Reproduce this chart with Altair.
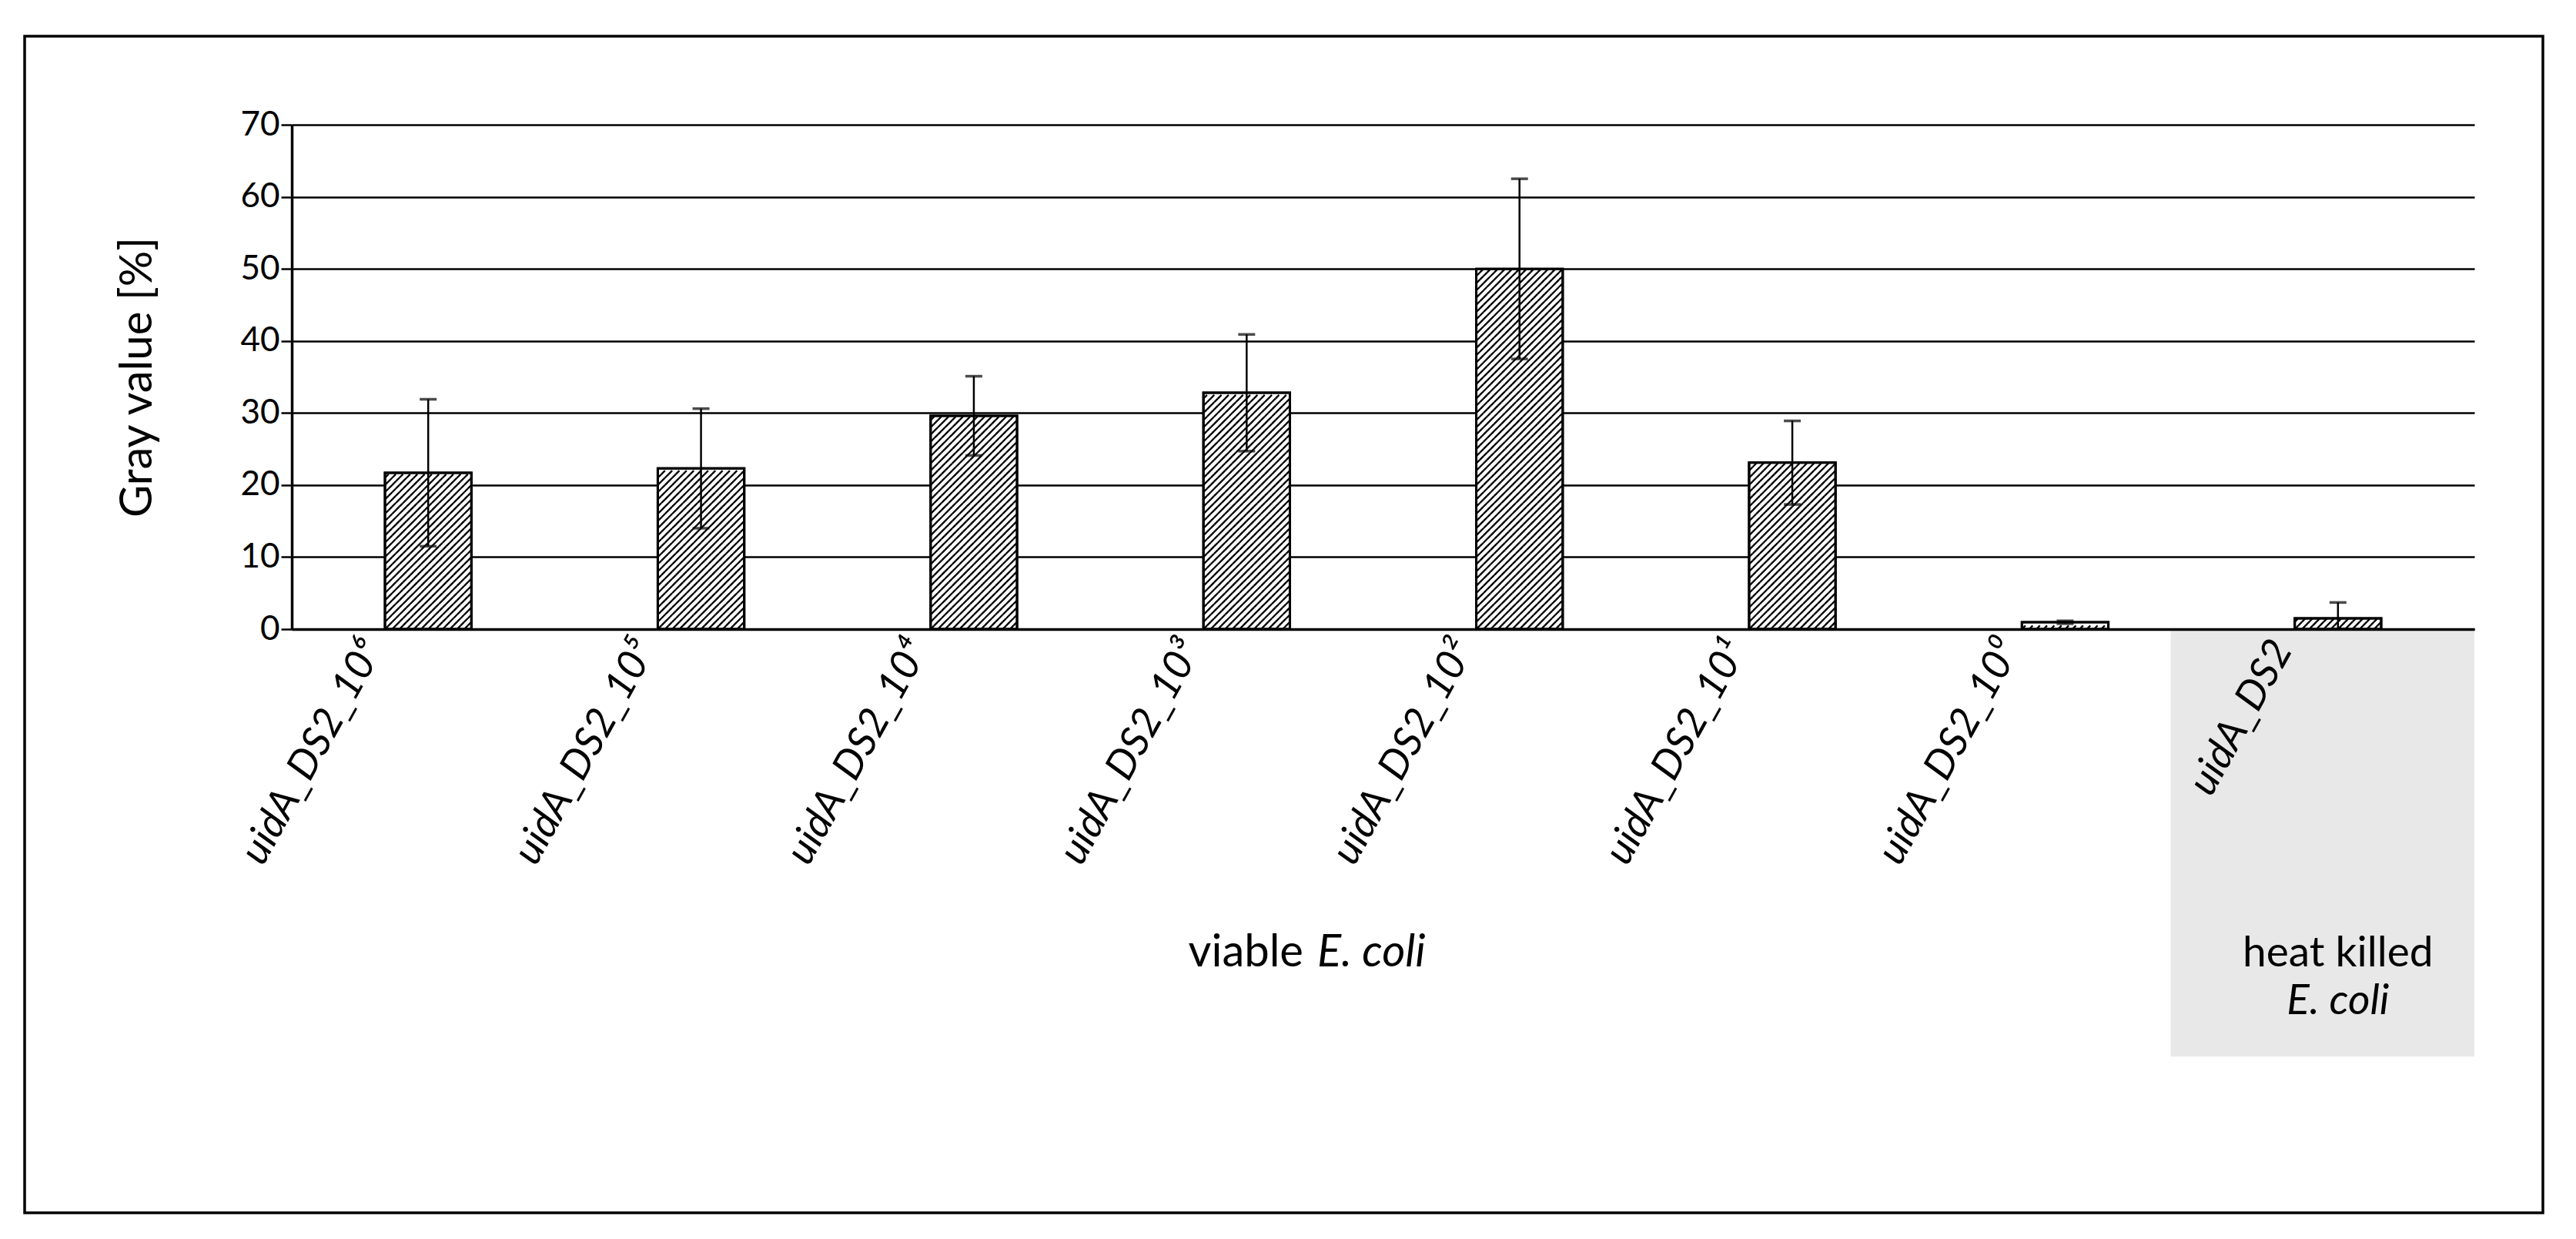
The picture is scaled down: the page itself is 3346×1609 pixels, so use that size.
import altair as alt
import pandas as pd

# ---------------- data ----------------
categories = ["uidA_DS2_10⁶", "uidA_DS2_10⁵", "uidA_DS2_10⁴", "uidA_DS2_10³",
              "uidA_DS2_10²", "uidA_DS2_10¹", "uidA_DS2_10⁰", "uidA_DS2"]
means = [21.7, 22.3, 29.6, 32.8, 50.0, 23.1, 0.95, 1.5]
errors = [10.2, 8.3, 5.5, 8.1, 12.5, 5.8, 0.2, 2.2]
y_ticks = [0, 10, 20, 30, 40, 50, 60, 70]

df = pd.DataFrame({"label": categories, "mean": means, "err": errors})

# ---------------- geometry / style ----------------
FONT = "Lato"
W, H = 2835, 655
Y_MAX = 70
ROW = 0.5                       # hatch row height in data units
row_px = ROW * H / Y_MAX
N_CELLS = 24
bar_px = N_CELLS * row_px
step = W / len(categories)
p_inner = 1 - bar_px / step

c = 2.0 / N_CELLS


def hatch_path(parity):
    segs = []
    for j in range(N_CELLS):
        if (j + parity) % 2 == 0:
            x0 = -1 + j * c
            segs.append(f"M{x0:.4f},{c/2:.4f}L{x0 + c:.4f},{-c/2:.4f}")
    return "".join(segs)


path_a, path_b = hatch_path(0), hatch_path(1)

YTITLE = "Gray value [%]"
TXT = 58
yscale = alt.Scale(domain=[0, Y_MAX], nice=False, zero=True)
xscale = alt.Scale(domain=categories, paddingInner=p_inner, paddingOuter=p_inner / 2)

X = alt.X(
    "label:N", sort=categories, scale=xscale, title=None,
    axis=alt.Axis(
        labelAngle=-61, labelAlign="right", labelBaseline="middle",
        labelFont=FONT, labelFontSize=53, labelFontStyle="italic", labelColor="black",
        labelPadding=18, labelOffset=-72, labelLimit=0, ticks=False, domainColor="black",
        domainWidth=3.5, grid=False, zindex=1,
    ),
)

yaxis = alt.Axis(
    values=y_ticks, grid=True, gridColor="black", gridWidth=2.4, gridOpacity=1,
    domainColor="black", domainWidth=3.5, tickColor="black", tickSize=14, tickWidth=2.5,
    labelFont=FONT, labelFontSize=44, labelColor="black", labelPadding=2,
    title=YTITLE, titleFont=FONT, titleFontSize=TXT, titleFontWeight="normal",
    titleColor="black", titleX=-200, titleY=H / 2, titleBaseline="middle",
)

base = alt.Chart(df)

bars = base.mark_bar(fill="white", stroke="black", strokeWidth=3).encode(
    x=X, y=alt.Y("mean:Q", scale=yscale, axis=yaxis, title=YTITLE)
)

hatch = base.transform_calculate(
    rows=f"sequence(0, floor(datum.mean / {ROW}))"
).transform_flatten(["rows"], as_=["k"]).transform_calculate(
    yc=f"(datum.k + 0.5) * {ROW}",
    parity="datum.k % 2 == 0 ? 'a' : 'b'",
).mark_point(filled=False, color="black", opacity=1, strokeWidth=2.3,
             size=bar_px ** 2).encode(
    x=X,
    y=alt.Y("yc:Q", title=YTITLE),
    shape=alt.Shape("parity:N", scale=alt.Scale(domain=["a", "b"], range=[path_a, path_b]),
                    legend=None),
)

outline = base.mark_bar(fillOpacity=0, stroke="black", strokeWidth=3).encode(
    x=X, y=alt.Y("mean:Q", title=YTITLE)
)

err = base.transform_calculate(
    lo="max(0, datum.mean - datum.err)", hi="datum.mean + datum.err"
)
err_rule = err.mark_rule(color="black", strokeWidth=2.5).encode(
    x=X, y=alt.Y("lo:Q", title=YTITLE), y2="hi:Q"
)
cap_hi = err.mark_tick(color="black", size=22, thickness=3.5).encode(
    x=X, y=alt.Y("hi:Q", title=YTITLE)
)
cap_lo = err.mark_tick(color="black", size=22, thickness=3.5).encode(
    x=X, y=alt.Y("lo:Q", title=YTITLE)
)

main = alt.layer(bars, hatch, outline, err_rule, cap_hi, cap_lo)

# ---------------- heat-killed box ----------------
box_scale = alt.Scale(domain=categories, paddingInner=0, paddingOuter=0)
last = base.transform_filter(alt.datum.label == categories[-1])
box = last.mark_rect(color="#e8e8e8", xOffset=-40).encode(
    x=alt.X("label:N", sort=categories, scale=box_scale, axis=None, bandPosition=0),
    x2=alt.X2("label", bandPosition=1),
    y=alt.value(H), y2=alt.value(H + 555),
)
heat1 = last.mark_text(text="heat killed", font=FONT, fontSize=55, color="black").encode(
    x=alt.X("label:N", sort=categories, scale=box_scale, axis=None), y=alt.value(H + 421)
)
heat2 = last.mark_text(text="E. coli", font=FONT, fontSize=55, fontStyle="italic",
                       color="black").encode(
    x=alt.X("label:N", sort=categories, scale=box_scale, axis=None), y=alt.value(H + 483)
)
box_layer = alt.layer(box, heat1, heat2)

# ---------------- annotations ----------------
one = alt.Data(values=[{"a": 1}])
viable1 = alt.Chart(one).mark_text(text="viable", font=FONT, fontSize=TXT, align="right",
                                   color="black").encode(
    x=alt.value(1314), y=alt.value(H + 421))
viable2 = alt.Chart(one).mark_text(text="E. coli", font=FONT, fontSize=TXT, align="left",
                                   fontStyle="italic", color="black").encode(
    x=alt.value(1332), y=alt.value(H + 421))
border = alt.Chart(one).mark_rect(fillOpacity=0, stroke="black", strokeWidth=3.5).encode(
    x=alt.value(-347), x2=alt.value(2924), y=alt.value(-115), y2=alt.value(1413))

chart = alt.layer(box_layer, main, viable1, viable2, border).resolve_scale(
    x="independent"
).properties(
    width=W, height=H,
    padding={"left": 22, "top": 37, "right": 10, "bottom": 10},
    background="white",
).configure_view(strokeWidth=0)

chart.save("out.html", embed_options={"renderer": "svg", "actions": False})
